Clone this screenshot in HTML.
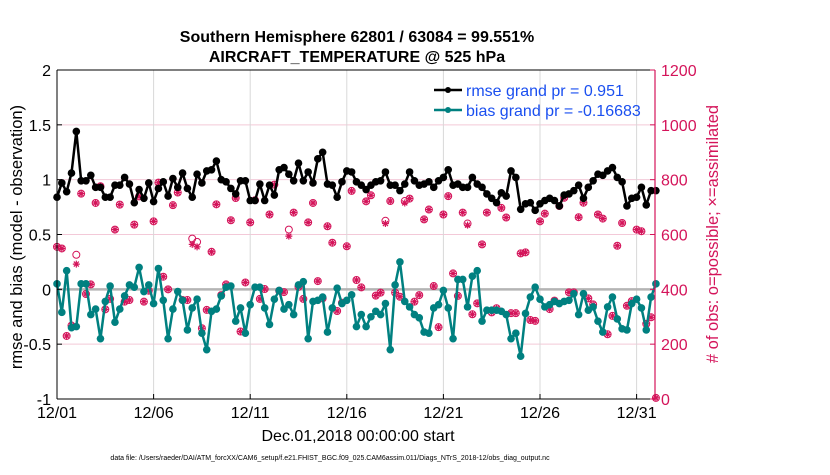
<!DOCTYPE html>
<html><head><meta charset="utf-8"><style>
body{margin:0;background:#fff;}
svg text{font-family:"Liberation Sans",sans-serif;}
</style></head><body>
<svg id="chart" width="830" height="470" xmlns="http://www.w3.org/2000/svg">
<g id="grid"></g>
<g id="series"></g>
<g id="axes"></g>
<text x="357" y="42" text-anchor="middle" font-size="16" font-weight="bold">Southern Hemisphere 62801 / 63084 = 99.551%</text>
<text x="357" y="62" text-anchor="middle" font-size="16" font-weight="bold">AIRCRAFT_TEMPERATURE @ 525 hPa</text>
<text x="358" y="441" text-anchor="middle" font-size="16">Dec.01,2018 00:00:00 start</text>
<text transform="translate(22,237) rotate(-90)" text-anchor="middle" font-size="16.5">rmse and bias (model - observation)</text>
<text transform="translate(718,234) rotate(-90)" text-anchor="middle" font-size="16.5" fill="#d4145a"># of obs: o=possible; ×=assimilated</text>
<text x="330" y="460" text-anchor="middle" font-size="7">data file: /Users/raeder/DAI/ATM_forcXX/CAM6_setup/f.e21.FHIST_BGC.f09_025.CAM6assim.011/Diags_NTrS_2018-12/obs_diag_output.nc</text>
<g>
<line x1="434" y1="90" x2="462" y2="90" stroke="#000" stroke-width="2.5"/>
<circle cx="448" cy="90" r="3" fill="#000"/>
<text x="466" y="96" font-size="16" fill="#1a4ff0">rmse grand pr = 0.951</text>
<line x1="434" y1="110" x2="462" y2="110" stroke="#008080" stroke-width="2.5"/>
<circle cx="448" cy="110" r="3" fill="#008080"/>
<text x="466" y="116" font-size="16" fill="#1a4ff0">bias grand pr = -0.16683</text>
</g>
</svg>
<script>
const xTickLabels=["12/01","12/06","12/11","12/16","12/21","12/26","12/31"];
const xTickDays=[0,5,10,15,20,25,30];
const yTicks=[-1,-0.5,0,0.5,1,1.5,2];
const y2Ticks=[0,200,400,600,800,1000,1200];
const rmse=[0.84,0.97,0.89,1.06,1.44,0.99,0.99,1.04,0.93,0.93,0.84,0.84,0.95,0.95,1.02,0.96,0.79,0.91,0.83,0.97,0.80,0.92,0.98,0.85,1.01,0.93,1.06,0.92,0.84,1.05,0.97,1.08,1.09,1.17,1.00,0.98,0.92,0.87,0.99,0.99,0.81,
0.81,0.96,0.81,0.95,0.86,1.09,1.11,1.05,0.99,1.15,0.99,1.07,0.97,1.19,1.25,0.96,0.95,0.84,0.98,1.08,1.07,0.98,0.95,0.91,0.95,0.98,0.99,1.07,0.95,0.95,0.90,0.96,1.07,0.99,0.95,0.96,0.98,0.93,0.99,1.02,1.09,0.95,
0.96,0.93,0.93,1.02,0.96,0.93,0.87,0.83,0.79,0.88,0.85,1.08,1.02,0.73,0.78,0.79,0.72,0.78,0.81,0.83,0.81,0.76,0.86,0.87,0.90,0.95,0.83,0.93,0.99,1.05,1.04,1.08,1.11,1.02,0.98,0.76,0.83,0.84,0.93,0.77,0.90,0.90];
const bias=[0.05,-0.21,0.17,-0.35,-0.34,0.05,0.05,-0.23,-0.18,-0.45,-0.11,0.03,-0.30,-0.18,-0.06,0.04,0.02,0.20,-0.02,0.04,-0.13,0.19,-0.10,-0.45,-0.18,-0.02,-0.10,-0.37,-0.17,-0.09,-0.40,-0.55,-0.20,-0.18,-0.06,0.02,0.03,-0.29,-0.17,-0.40,-0.14,0.02,
0.02,-0.17,-0.32,-0.09,-0.01,-0.18,-0.14,-0.23,0.04,0.07,-0.45,-0.11,-0.10,-0.07,-0.39,-0.17,0.01,-0.13,-0.10,-0.05,-0.34,-0.23,-0.34,-0.25,-0.20,-0.23,-0.13,-0.55,0.04,0.25,-0.11,-0.16,-0.23,-0.26,-0.39,-0.40,-0.17,-0.14,-0.01,-0.17,-0.45,0.09,
0.09,-0.16,0.12,0.17,-0.29,-0.19,-0.19,-0.19,-0.20,-0.23,-0.45,-0.40,-0.61,-0.22,-0.07,0.02,-0.09,-0.16,-0.14,-0.11,-0.13,-0.11,-0.10,-0.04,-0.23,-0.04,-0.19,-0.16,-0.29,-0.39,-0.16,-0.07,-0.27,-0.36,-0.37,-0.13,-0.09,-0.17,-0.37,-0.07,0.05];
const obsPossible=[555,549,230,268,526,749,383,418,715,776,327,365,618,709,355,361,636,739,355,395,648,789,446,400,707,753,361,361,585,573,258,325,537,710,379,418,652,733,246,425,
644,725,365,401,673,782,395,390,618,680,409,365,644,715,430,367,630,570,321,351,557,759,434,407,721,743,377,388,650,722,388,373,722,731,355,379,655,691,412,262,673,740,
458,376,680,640,309,349,564,680,316,331,697,662,313,313,531,535,288,285,648,676,328,359,704,734,389,389,663,716,367,345,673,658,236,303,559,642,340,357,618,612,274,298,4];
const obsAssim=[555,549,230,268,492,749,383,418,715,776,327,365,618,709,355,361,636,739,355,395,648,789,446,400,707,753,361,361,564,555,258,325,537,710,379,418,652,733,246,425,
644,725,365,401,673,782,395,390,594,680,409,365,644,715,430,367,630,570,321,351,557,759,434,407,721,743,377,388,640,722,388,373,715,731,355,379,655,691,412,262,673,740,
458,376,680,634,309,349,564,680,316,331,697,662,313,313,531,535,288,285,648,676,328,359,704,734,389,389,663,716,367,345,673,658,236,303,559,642,340,357,618,612,274,298,4];

const NS="http://www.w3.org/2000/svg";
const X0=57,X1=655,Y0=70,Y1=399;
const xs=d=>X0+d*19.32;
const xi=i=>xs(i/4);
const ys=v=>Y1-(v+1)/3*(Y1-Y0);
const y2s=v=>Y1-v/1200*(Y1-Y0);
function mk(tag,attrs,parent){const e=document.createElementNS(NS,tag);for(const k in attrs)e.setAttribute(k,attrs[k]);parent.appendChild(e);return e;}
const grid=document.getElementById('grid'),ser=document.getElementById('series'),axes=document.getElementById('axes');
yTicks.forEach(t=>{if(t>-1&&t<2&&t!==0){const l=mk('line',{x1:X0,x2:X1,y1:ys(t),y2:ys(t),stroke:'#f3c9d8','stroke-width':1},grid);

}});
xTickDays.forEach(d=>{if(d>0){const l=mk('line',{x1:xs(d),x2:xs(d),y1:Y0,y2:Y1,stroke:'#d8d8d8','stroke-width':1},grid);

}});
const zl=mk('line',{x1:X0,x2:X1,y1:ys(0),y2:ys(0),stroke:'#b4b4b4','stroke-width':2.5},grid);


obsPossible.forEach((v,i)=>{const c=mk('circle',{cx:xi(i),cy:y2s(v),r:3.5,fill:'none',stroke:'#d4145a','stroke-width':1},ser);

});
obsAssim.forEach((v,i)=>{const x=xi(i),y=y2s(v);const p=mk('path',{d:`M${x-3.5} ${y}H${x+3.5}M${x} ${y-3.5}V${y+3.5}M${x-2.5} ${y-2.5}L${x+2.5} ${y+2.5}M${x-2.5} ${y+2.5}L${x+2.5} ${y-2.5}`,stroke:'#d4145a','stroke-width':1.2},ser);

});
function line(arr,col,name){const pl=mk('polyline',{points:arr.map((v,i)=>xi(i)+','+ys(v)).join(' '),fill:'none',stroke:col,'stroke-width':2.5,'stroke-linejoin':'round'},ser);


arr.forEach((v,i)=>{const c=mk('circle',{cx:xi(i),cy:ys(v),r:3.8,fill:col},ser);

});}
line(rmse,'#000','rmse');
line(bias,'#008080','bias');
mk('line',{x1:X0,x2:X1,y1:Y0,y2:Y0,stroke:'#000'},axes);
mk('line',{x1:X0,x2:X1,y1:Y1,y2:Y1,stroke:'#000'},axes);
mk('line',{x1:X0,x2:X0,y1:Y0,y2:Y1,stroke:'#000'},axes);
mk('line',{x1:X1,x2:X1,y1:Y0,y2:Y1,stroke:'#d4145a','stroke-width':1.2},axes);
yTicks.forEach(t=>{mk('line',{x1:X0,x2:X0+5,y1:ys(t),y2:ys(t),stroke:'#000'},axes);
const tx=mk('text',{x:X0-6,y:ys(t)+6,'text-anchor':'end','font-size':16},axes);tx.textContent=String(t);

});
y2Ticks.forEach(t=>{mk('line',{x1:X1-5,x2:X1,y1:y2s(t),y2:y2s(t),stroke:'#d4145a'},axes);
const tx=mk('text',{x:X1+6,y:y2s(t)+6,'font-size':16,fill:'#d4145a'},axes);tx.textContent=String(t);

});
xTickDays.forEach((d,k)=>{mk('line',{x1:xs(d),x2:xs(d),y1:Y1,y2:Y1-5,stroke:'#000'},axes);
const tx=mk('text',{x:xs(d),y:Y1+19,'text-anchor':'middle','font-size':16},axes);tx.textContent=xTickLabels[k];

});
</script>
</body></html>
